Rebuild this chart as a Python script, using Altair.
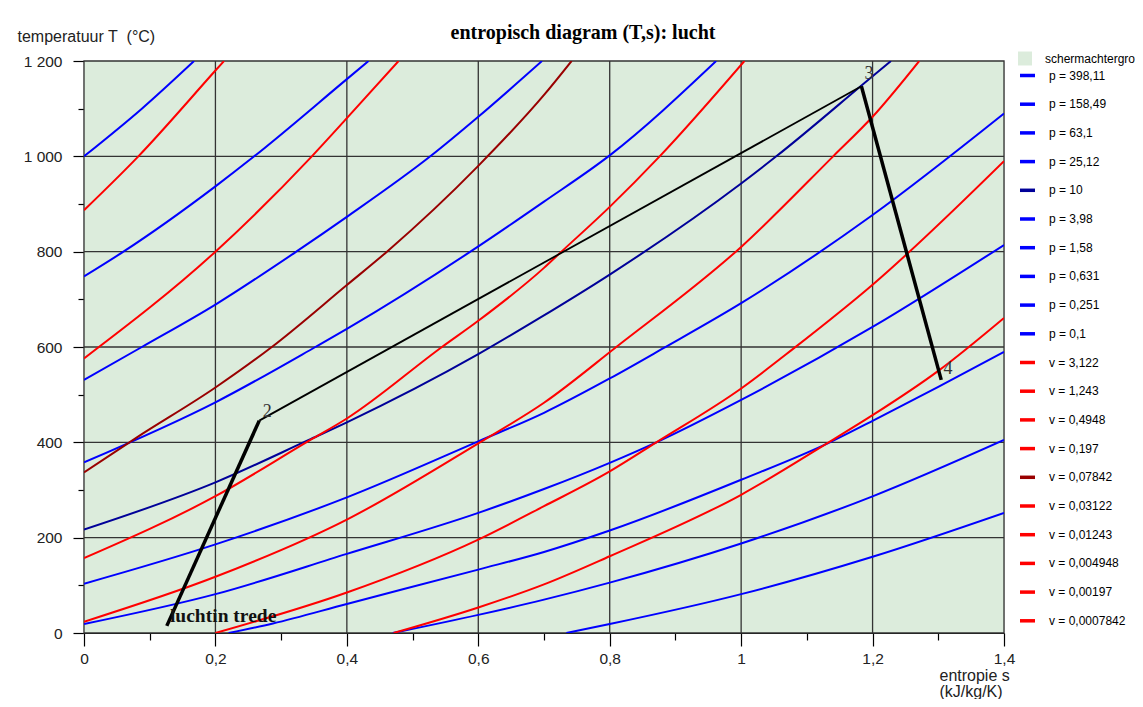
import altair as alt
import pandas as pd

# ---------------- data ----------------
# entropy s [kJ/kg/K] and temperature T [°C] along each curve
p_labels = ["p = 398,11", "p = 158,49", "p = 63,1", "p = 25,12", "p = 10",
            "p = 3,98", "p = 1,58", "p = 0,631", "p = 0,251", "p = 0,1"]
v_labels = ["v = 3,122", "v = 1,243", "v = 0,4948", "v = 0,197", "v = 0,07842",
            "v = 0,03122", "v = 0,01243", "v = 0,004948", "v = 0,00197", "v = 0,0007842"]

# isobars (blue)
b1_s = [0, 0.088, 0.1675]
b1_T = [1000, 1100, 1200]
b2_s = [0, 0.06, 0.2, 0.259, 0.4, 0.433]
b2_T = [748, 800, 937, 1000, 1162, 1200]
b3_s = [0, 0.088, 0.2, 0.323, 0.4, 0.527, 0.6, 0.697]
b3_T = [531, 600, 689, 800, 873, 1000, 1083, 1200]
b4_s = [0, 0.2, 0.352, 0.4, 0.588, 0.7, 0.8, 0.962]
b4_T = [358, 484, 600, 638, 800, 905, 1002, 1200]
b5_s = [0, 0.2, 0.342, 0.4, 0.6, 0.6935, 0.8, 1.0, 1.0535, 1.2, 1.228]
b5_T = [217, 316, 405, 442, 585, 661, 752, 943, 1000, 1168, 1200]
b6_s = [0, 0.2, 0.4, 0.6, 0.7, 0.8, 0.881, 1.0, 1.2, 1.4]
b6_T = [103.5, 186, 284.5, 402, 462, 534, 597, 692, 877, 1090]
b7_s = [0, 0.2, 0.4, 0.6, 0.7, 0.8, 0.871, 1.0, 1.2, 1.4]
b7_T = [18.8, 81.5, 166, 252, 302, 357, 400, 489, 642, 814]
b8_s = [0.22, 0.2875, 0.4, 0.6, 0.7, 0.8, 1.0, 1.135, 1.2, 1.3, 1.4]
b8_T = [0, 20, 61, 133, 170, 215, 321.5, 400, 445, 516.5, 589.6]
b9_s = [0.47, 0.6, 0.7, 0.8, 1.0, 1.2, 1.4]
b9_T = [0, 38, 70, 105.7, 187.8, 286.7, 405]
b10_s = [0.734, 0.8, 1.0, 1.2, 1.4]
b10_T = [0, 18.8, 81.5, 160, 252]

# isochores (red)
r1_s = [0, 0.0827, 0.2, 0.213]
r1_T = [887, 1000, 1180, 1200]
r2_s = [0, 0.2, 0.3467, 0.4, 0.4787]
r2_T = [576, 800, 1000, 1080, 1200]
r3_s = [0, 0.08, 0.2, 0.2858, 0.4, 0.461, 0.6, 0.702, 0.742]
r3_T = [337, 410, 515, 600, 730, 800, 980, 1132, 1200]
r4_s = [0, 0.2, 0.342, 0.4, 0.5447, 0.6, 0.7, 0.7265, 0.8, 0.876, 1.005]
r4_T = [157, 287, 403, 450, 600, 655, 766, 800, 894, 1000, 1200]
r5_s = [0, 0.2, 0.4, 0.6, 0.7, 0.81, 1.0, 1.14, 1.2, 1.271]
r5_T = [23.7, 118, 238, 398, 483, 600, 810, 1000, 1083, 1200]
r6_s = [0.2, 0.4, 0.6, 0.7, 0.8, 0.871, 1.0, 1.079, 1.2, 1.4]
r6_T = [0, 85, 196, 266, 339, 400, 513, 596, 730.6, 990]
r7_s = [0.471, 0.6, 0.7, 0.8, 1.0, 1.135, 1.2, 1.3, 1.4]
r7_T = [0, 53.6, 102, 161, 290, 401.6, 457, 550, 661]

# cycle 1-2-3-4 (black)
cycle_s = [0.126, 0.2667, 1.183, 1.3045]
cycle_T = [15, 445.5, 1147, 531]
cycle_width = [3.5, 1.8, 3.5]          # width of segments 1-2, 2-3, 3-4

# annotations
ann_txt = ["2", "3", "4"]
ann_s = [0.279, 1.1947, 1.3148]
ann_T = [464, 1172, 554]
inlet_txt = "luchtin trede"
inlet_s = [0.1308]
inlet_T = [23]

x_ticks = [0, 0.1, 0.2, 0.3, 0.4, 0.5, 0.6, 0.7, 0.8, 0.9, 1.0, 1.1, 1.2, 1.3, 1.4]
y_ticks = [0, 100, 200, 300, 400, 500, 600, 700, 800, 900, 1000, 1100, 1200]
x_grid = [0.2, 0.4, 0.6, 0.8, 1.0, 1.2]
y_grid = [200, 400, 600, 800, 1000]
bg_name = "schermachtergrond"

# ---------------- styling ----------------
BLUE, NAVY, RED, DRED = "#0000FF", "#000099", "#FF0000", "#990000"
BG = "#DCECDC"
GRID = "#333333"

curves = [
    (p_labels[0], b1_s, b1_T), (p_labels[1], b2_s, b2_T), (p_labels[2], b3_s, b3_T),
    (p_labels[3], b4_s, b4_T), (p_labels[4], b5_s, b5_T), (p_labels[5], b6_s, b6_T),
    (p_labels[6], b7_s, b7_T), (p_labels[7], b8_s, b8_T), (p_labels[8], b9_s, b9_T),
    (p_labels[9], b10_s, b10_T),
    (v_labels[2], r1_s, r1_T), (v_labels[3], r2_s, r2_T), (v_labels[4], r3_s, r3_T),
    (v_labels[5], r4_s, r4_T), (v_labels[6], r5_s, r5_T), (v_labels[7], r6_s, r6_T),
    (v_labels[8], r7_s, r7_T),
]
rows = []
for lab, ss, tt in curves:
    for i, (s, t) in enumerate(zip(ss, tt)):
        rows.append({"series": lab, "s": s, "T": t, "i": i})
df_curves = pd.DataFrame(rows)

seg_rows = []
for k in range(len(cycle_s) - 1):
    for j in (k, k + 1):
        seg_rows.append({"seg": k, "s": cycle_s[j], "T": cycle_T[j], "w": cycle_width[k], "i": j})
df_cycle = pd.DataFrame(seg_rows)

df_ann = pd.DataFrame({"s": ann_s, "T": ann_T, "txt": ann_txt})
df_inlet = pd.DataFrame({"s": inlet_s, "T": inlet_T, "txt": [inlet_txt]})
df_bg = pd.DataFrame({"s0": [x_ticks[0]], "s1": [x_ticks[-1]], "T0": [y_ticks[0]],
                      "T1": [y_ticks[-1]], "name": [bg_name]})
df_xg = pd.DataFrame({"s": x_grid})
df_yg = pd.DataFrame({"T": y_grid})

domain = p_labels + v_labels
colors = [BLUE] * 4 + [NAVY] + [BLUE] * 5 + [RED] * 4 + [DRED] + [RED] * 5

xs = alt.Scale(domain=[0, 1.4], nice=False, zero=False)
ys = alt.Scale(domain=[0, 1200], nice=False, zero=False)

SANS = "Liberation Sans"
SERIF = "Liberation Serif"

xaxis = alt.Axis(
    values=x_ticks,
    labelExpr="round(datum.value*10)%2==0 ? replace(format(datum.value,'.1~f'),'.',',') : ''",
    grid=False, domainColor="#000000", domainWidth=1.2,
    tickColor="#000000", tickWidth=1.2,
    tickSize={"condition": {"test": "round(datum.value*10)%2==0", "value": 13}, "value": 7},
    labelFont=SANS, labelFontSize=15.5, labelColor="#222222", labelPadding=5,
    labelFlush=False, labelOverlap=False,
    title=["entropie s", "(kJ/kg/K)"], titleFont=SANS, titleFontSize=16,
    titleFontWeight="normal", titleColor="#222222", titleX=855, titleY=47,
    titleAlign="left", titleBaseline="alphabetic", titleLineHeight=16.5, titleAngle=0,
)
yaxis = alt.Axis(
    values=y_ticks,
    labelExpr="round(datum.value)%200==0 ? replace(format(datum.value, ','), ',', ' ') : ''",
    grid=False, domainColor="#000000", domainWidth=1.2,
    tickColor="#000000", tickWidth=1.2,
    tickSize={"condition": {"test": "round(datum.value)%200==0", "value": 11}, "value": 6},
    labelFont=SANS, labelFontSize=15.5, labelColor="#222222", labelPadding=11,
    labelOverlap=False, labelFlush=False,
    title="temperatuur T\u00a0 (°C)", titleFont=SANS, titleFontSize=16,
    titleFontWeight="normal", titleColor="#222222", titleAngle=0,
    titleAlign="left", titleBaseline="alphabetic", titleX=-67, titleY=-19.5,
)

bg = alt.Chart(df_bg).mark_rect(stroke="#333333", strokeWidth=1.3).encode(
    x=alt.X("s0:Q", scale=xs, axis=xaxis),
    x2="s1:Q",
    y=alt.Y("T0:Q", scale=ys, axis=yaxis),
    y2="T1:Q",
    fill=alt.Fill("name:N", scale=alt.Scale(domain=[bg_name], range=[BG]),
                  legend=alt.Legend(title=None, orient="none", legendX=934, legendY=-9.5,
                                    symbolType="square", symbolSize=196,
                                    symbolStrokeWidth=0, labelFont=SANS,
                                    labelFontSize=12, labelColor="#000000",
                                    labelOffset=13, padding=0, labelLimit=400)),
)

gx = alt.Chart(df_xg).mark_rule(color=GRID, strokeWidth=1.3).encode(
    x=alt.X("s:Q", scale=xs, axis=xaxis))
gy = alt.Chart(df_yg).mark_rule(color=GRID, strokeWidth=1.3).encode(
    y=alt.Y("T:Q", scale=ys, axis=yaxis))

lines = alt.Chart(df_curves).mark_line(strokeWidth=2, clip=True, strokeJoin="round",
                                       interpolate="monotone").encode(
    x=alt.X("s:Q", scale=xs, axis=xaxis),
    y=alt.Y("T:Q", scale=ys, axis=yaxis),
    stroke=alt.Stroke("series:N", scale=alt.Scale(domain=domain, range=colors),
                      legend=alt.Legend(title=None, orient="none", legendX=934, legendY=5,
                                        direction="vertical", symbolType="stroke",
                                        symbolSize=225, symbolStrokeWidth=3.5,
                                        labelFont=SANS, labelFontSize=12,
                                        labelColor="#000000", labelOffset=12,
                                        rowPadding=11.7, padding=0, labelLimit=300)),
    order="i:Q",
)

cycle = alt.Chart(df_cycle).mark_line(color="#000000", strokeCap="butt").encode(
    x=alt.X("s:Q", scale=xs, axis=xaxis),
    y=alt.Y("T:Q", scale=ys, axis=yaxis),
    detail="seg:N",
    strokeWidth=alt.StrokeWidth("w:Q", scale=None),
    order="i:Q",
)

ann = alt.Chart(df_ann).mark_text(font=SERIF, fontSize=18, color="#333333",
                                  align="center", baseline="middle").encode(
    x=alt.X("s:Q", scale=xs, axis=xaxis),
    y=alt.Y("T:Q", scale=ys, axis=yaxis),
    text="txt:N",
)
inlet = alt.Chart(df_inlet).mark_text(font=SERIF, fontSize=19.5, fontWeight="bold",
                                      color="#111111", align="left",
                                      baseline="alphabetic").encode(
    x=alt.X("s:Q", scale=xs, axis=xaxis),
    y=alt.Y("T:Q", scale=ys, axis=yaxis),
    text="txt:N",
)

chart = alt.layer(bg, gx, gy, lines, cycle, ann, inlet).properties(
    width=920, height=572,
    title=alt.TitleParams("entropisch diagram (T,s): lucht", font=SERIF, fontSize=20,
                          fontWeight="bold", color="#000000", anchor="middle",
                          frame="group", dx=39, offset=-30, baseline="alphabetic"),
    autosize=alt.AutoSizeParams(type="none"),
    padding={"left": 76, "top": 53, "right": 131, "bottom": 66},
).configure_view(stroke=None).configure(background="#FFFFFF")

chart.save("out.html", embed_options={"renderer": "svg", "actions": False})
